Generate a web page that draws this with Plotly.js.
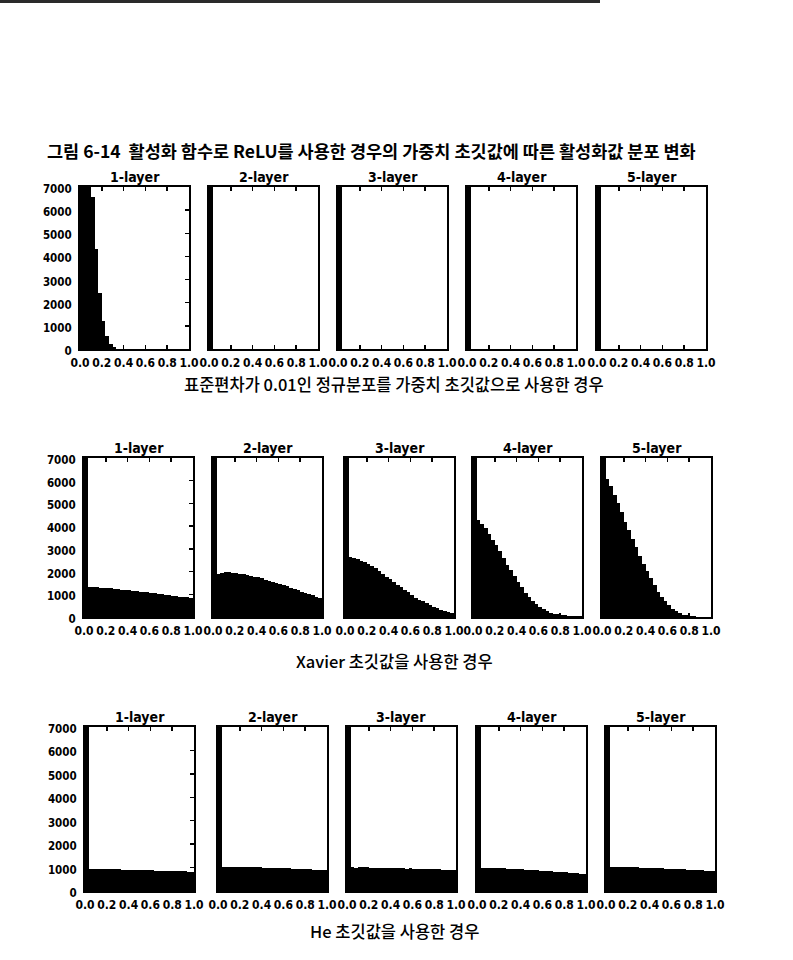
<!DOCTYPE html>
<html><head><meta charset="utf-8">
<script src="https://cdn.plot.ly/plotly-3.0.1.min.js"></script>
<style>html,body{margin:0;padding:0;background:#fff}</style>
</head><body><div id="chart" style="width:793px;height:960px"></div>
<script>
// ---------------- DATA ----------------
const BIN_COUNT = 30;
const layerTitles = ['1-layer', '2-layer', '3-layer', '4-layer', '5-layer'];
const xTickValues = [0, 0.2, 0.4, 0.6, 0.8, 1.0];
const xTickLabels = ['0.0', '0.2', '0.4', '0.6', '0.8', '1.0'];
const yTickValues = [0, 1000, 2000, 3000, 4000, 5000, 6000, 7000];
const yTickLabels = ['0', '1000', '2000', '3000', '4000', '5000', '6000', '7000'];
const figureTitleLabel = '그림 6-14';
const figureTitleText = '활성화 함수로 ReLU를 사용한 경우의 가중치 초깃값에 따른 활성화값 분포 변화';
const rowCaptions = [
  '표준편차가 0.01인 정규분포를 가중치 초깃값으로 사용한 경우',
  'Xavier 초깃값을 사용한 경우',
  'He 초깃값을 사용한 경우'
];

// counts per bin (30 bins over [0,1]); first bins exceed the 7000 axis limit
const std001_layer1 = [63000, 11700, 9400, 6550, 4300, 2400, 1200, 550, 200, 70, 20, 5, 0, 0, 0, 0, 0, 0, 0, 0, 0, 0, 0, 0, 0, 0, 0, 0, 0, 0];
const std001_layer2 = [100000, 0, 0, 0, 0, 0, 0, 0, 0, 0, 0, 0, 0, 0, 0, 0, 0, 0, 0, 0, 0, 0, 0, 0, 0, 0, 0, 0, 0, 0];
const std001_layer3 = [100000, 0, 0, 0, 0, 0, 0, 0, 0, 0, 0, 0, 0, 0, 0, 0, 0, 0, 0, 0, 0, 0, 0, 0, 0, 0, 0, 0, 0, 0];
const std001_layer4 = [100000, 0, 0, 0, 0, 0, 0, 0, 0, 0, 0, 0, 0, 0, 0, 0, 0, 0, 0, 0, 0, 0, 0, 0, 0, 0, 0, 0, 0, 0];
const std001_layer5 = [100000, 0, 0, 0, 0, 0, 0, 0, 0, 0, 0, 0, 0, 0, 0, 0, 0, 0, 0, 0, 0, 0, 0, 0, 0, 0, 0, 0, 0, 0];

const xavier_layer1 = [51300, 1320, 1315, 1300, 1290, 1285, 1270, 1260, 1240, 1225, 1210, 1190, 1175, 1160, 1140, 1120, 1100, 1085, 1065, 1040, 1020, 1000, 980, 960, 940, 920, 900, 880, 860, 840];
const xavier_layer2 = [52000, 1900, 1950, 1970, 1960, 1950, 1930, 1900, 1880, 1850, 1810, 1780, 1740, 1700, 1650, 1600, 1560, 1500, 1450, 1400, 1350, 1290, 1230, 1180, 1120, 1060, 1000, 950, 900, 850];
const xavier_layer3 = [53000, 2630, 2610, 2560, 2480, 2420, 2350, 2250, 2140, 2010, 1900, 1780, 1660, 1550, 1430, 1320, 1200, 1080, 960, 850, 770, 700, 620, 540, 460, 390, 330, 280, 220, 160];
const xavier_layer4 = [54000, 4280, 4100, 3930, 3660, 3400, 3160, 2910, 2610, 2310, 2060, 1790, 1540, 1310, 1070, 900, 720, 570, 450, 340, 250, 190, 150, 120, 90, 75, 60, 45, 35, 25];
const xavier_layer5 = [55000, 6070, 5750, 5370, 5000, 4630, 4180, 3810, 3430, 3060, 2690, 2340, 2040, 1720, 1390, 1120, 900, 700, 520, 370, 250, 170, 110, 70, 45, 30, 20, 12, 8, 5];

const he_layer1 = [50000, 940, 930, 945, 935, 940, 925, 935, 920, 925, 910, 915, 900, 905, 895, 890, 895, 880, 885, 870, 875, 860, 865, 850, 855, 845, 840, 835, 830, 825];
const he_layer2 = [50000, 1030, 1020, 1035, 1025, 1030, 1015, 1020, 1010, 1020, 1005, 1010, 995, 1000, 990, 985, 990, 975, 980, 965, 960, 955, 945, 950, 930, 925, 915, 910, 900, 890];
const he_layer3 = [50000, 1010, 1000, 1015, 1005, 1010, 995, 1000, 990, 1000, 985, 990, 975, 985, 970, 975, 960, 965, 950, 955, 940, 945, 930, 935, 920, 925, 910, 905, 900, 890];
const he_layer4 = [50000, 990, 985, 995, 975, 980, 965, 970, 955, 950, 940, 935, 920, 915, 900, 895, 880, 870, 860, 850, 840, 825, 815, 800, 790, 775, 760, 750, 735, 720];
const he_layer5 = [50000, 1040, 1030, 1045, 1025, 1030, 1020, 1010, 1015, 1000, 995, 1000, 985, 980, 975, 970, 960, 955, 945, 940, 930, 925, 910, 905, 895, 885, 880, 870, 860, 850];

const rowsData = [
  [std001_layer1, std001_layer2, std001_layer3, std001_layer4, std001_layer5],
  [xavier_layer1, xavier_layer2, xavier_layer3, xavier_layer4, xavier_layer5],
  [he_layer1, he_layer2, he_layer3, he_layer4, he_layer5]
];

// ---------------- LAYOUT GEOMETRY (pixels) ----------------
const W = 793, H = 960;
const rowTops = [187, 458, 727];
const rowBottoms = [349, 617, 891];
const rowLefts = [[80, 209, 338, 467, 597], [84, 213, 345, 473, 602], [85, 218, 347, 477, 606]];
const plotW = 109;
const captionY = [384, 661, 931];
const captionX = 394;

const px = x => x / W;
const py = y => 1 - y / H;

const binCenters = Array.from({length: BIN_COUNT}, (_, i) => (i + 0.5) / BIN_COUNT);

const traces = [];
const layout = {
  width: W, height: H,
  margin: {l: 0, r: 0, t: 0, b: 0},
  paper_bgcolor: '#ffffff', plot_bgcolor: '#ffffff',
  showlegend: false,
  bargap: 0,
  annotations: [],
  shapes: [
    {type: 'line', xref: 'paper', yref: 'paper', x0: 0, x1: px(600), y0: py(1.5), y1: py(1.5),
     line: {color: '#2a2a2a', width: 3}}
  ]
};

const condensed = 'DejaVu Sans Condensed, Liberation Sans Narrow, DejaVu Sans';
const xTickFont = {family: condensed, size: 12, color: '#000', weight: 'bold'};
const yTickFont = {family: condensed, size: 11.5, color: '#000', weight: 'bold'};

for (let r = 0; r < 3; r++) {
  for (let c = 0; c < 5; c++) {
    const idx = r * 5 + c + 1;
    const sfx = idx === 1 ? '' : String(idx);
    traces.push({
      type: 'bar', x: binCenters, y: rowsData[r][c], width: 1 / BIN_COUNT,
      marker: {color: '#000', line: {width: 0}},
      xaxis: 'x' + sfx, yaxis: 'y' + sfx, hoverinfo: 'skip', showlegend: false
    });
    const l = rowLefts[r][c];
    layout['xaxis' + sfx] = {
      domain: [px(l), px(l + plotW)], range: [0, 1], anchor: 'y' + sfx,
      tickmode: 'array', tickvals: xTickValues, ticktext: xTickLabels, tickangle: 0,
      ticks: 'inside', ticklen: 4, tickwidth: 1.5, tickcolor: '#000',
      showline: true, linecolor: '#000', linewidth: 2, mirror: 'allticks',
      ticklabelstandoff: 2,
      showgrid: false, zeroline: false, tickfont: xTickFont, fixedrange: true
    };
    layout['yaxis' + sfx] = {
      domain: [py(rowBottoms[r]), py(rowTops[r])], range: [0, 7000], anchor: 'x' + sfx,
      tickmode: 'array', tickvals: yTickValues, ticktext: yTickLabels,
      ticks: c === 0 ? 'inside' : '', ticklen: 4, tickwidth: 1.5, tickcolor: '#000',
      showticklabels: c === 0, ticklabelshift: 2, ticklabelstandoff: 4,
      showline: true, linecolor: '#000', linewidth: 2, mirror: c === 0 ? 'allticks' : true,
      showgrid: false, zeroline: false, tickfont: yTickFont, fixedrange: true
    };
    layout.annotations.push({
      xref: 'paper', yref: 'paper', x: px(l + plotW / 2), y: py(rowTops[r] - 10),
      xanchor: 'center', yanchor: 'middle', showarrow: false,
      text: layerTitles[c],
      font: {family: condensed, size: 14, color: '#000', weight: 'bold'}
    });
  }
  layout.annotations.push({
    xref: 'paper', yref: 'paper', x: px(captionX), y: py(captionY[r]),
    xanchor: 'center', yanchor: 'middle', showarrow: false,
    text: rowCaptions[r],
    font: {family: 'Noto Sans CJK KR', size: 16.5, color: '#000', weight: 500}
  });
}

layout.annotations.push({
  xref: 'paper', yref: 'paper', x: px(45), y: py(150),
  xanchor: 'left', yanchor: 'middle', showarrow: false,
  text: '<b>' + figureTitleLabel + '</b>  <b>' + figureTitleText + '</b>',
  font: {family: 'Noto Sans CJK KR', size: 17.5, color: '#000', weight: 700}
});

Plotly.newPlot('chart', traces, layout, {staticPlot: true, displayModeBar: false});
</script></body></html>
